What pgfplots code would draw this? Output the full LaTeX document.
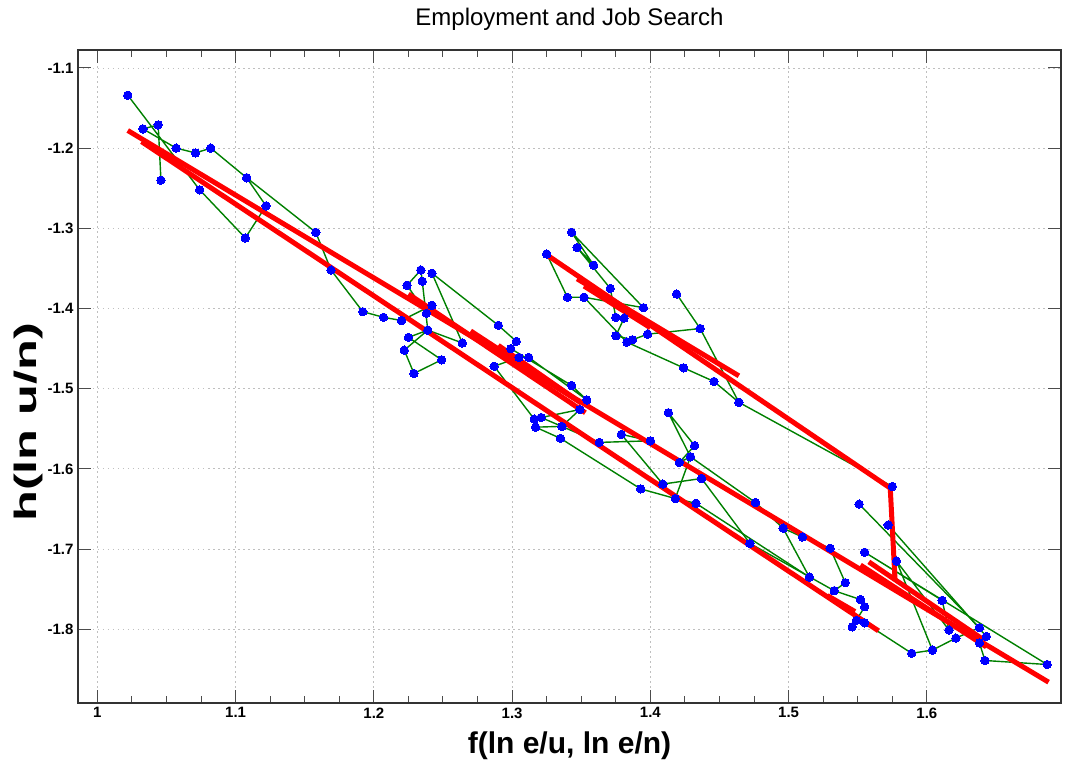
\documentclass[border=0pt]{standalone}
\usepackage{fontspec}
\setmainfont{Liberation Sans}
\usepackage{pgfplots}
\pgfplotsset{compat=1.18}
\definecolor{mygreen}{RGB}{0,128,0}
\definecolor{myred}{RGB}{255,0,0}
\definecolor{myblue}{RGB}{0,0,255}
\begin{document}
\begin{tikzpicture}
\useasboundingbox (-78pt,-57pt) rectangle (993pt,703pt);
\begin{axis}[
  at={(0,0)}, anchor=south west,
  scale only axis, width=983pt, height=653pt,
  xmin=0.986, xmax=1.697, ymin=-1.892, ymax=-1.0776,
  xtick={1,1.1,1.2,1.3,1.4,1.5,1.6},
  ytick={-1.8,-1.7,-1.6,-1.5,-1.4,-1.3,-1.2,-1.1},
  minor x tick num=3,
  tick align=inside,
  major tick length=13pt, minor tick length=7pt,
  tick style={line width=1pt, black!70},
  axis line style={line width=1.6pt, black!80},
  grid=major,
  grid style={line width=0.8pt, gray!50, dash pattern=on 1.5pt off 3.5pt},
  /pgf/number format/assume math mode=true,
  tick label style={font=\fontsize{15}{17}\selectfont\bfseries},
  xticklabel style={yshift=-1pt},
  yticklabel style={xshift=-1pt},
  title={Employment and Job Search},
  title style={at={(axis description cs:0.5,1.021)}, anchor=south, inner sep=0pt, font=\fontsize{24}{28}\selectfont},
  xlabel={f(ln e/u, ln e/n)},
  xlabel style={at={(axis description cs:0.5,-0.077)}, anchor=base, font=\fontsize{30}{34}\selectfont\bfseries},
  ylabel={h(ln u/n)},
  ylabel style={at={(axis description cs:-0.0427,0.43)}, anchor=base, font=\fontsize{31}{34}\selectfont\bfseries, xscale=1.63},
  every axis plot/.append style={line join=round},
  green/.style={mygreen, line width=1.4pt, mark=*, mark size=4.2pt, mark options={fill=myblue, draw=myblue, line width=0pt}},
  redl/.style={myred, line width=5pt, no markers},
]
% ---------------- green series with blue points ----------------
\addplot[green] coordinates {
(1.046,-1.240) (1.044,-1.171) (1.033,-1.176) (1.057,-1.200) (1.071,-1.206) (1.082,-1.200)
(1.108,-1.237) (1.122,-1.272) (1.107,-1.312) (1.074,-1.252) (1.022,-1.134)
};
\addplot[green] coordinates {
(1.108,-1.237) (1.158,-1.305) (1.169,-1.352) (1.192,-1.404) (1.207,-1.411) (1.220,-1.415)
(1.242,-1.396) (1.238,-1.406) (1.224,-1.371) (1.234,-1.352) (1.235,-1.366) (1.239,-1.427)
(1.222,-1.452) (1.229,-1.481) (1.249,-1.464) (1.225,-1.436) (1.239,-1.427) (1.264,-1.443)
(1.242,-1.356) (1.290,-1.421) (1.303,-1.441) (1.299,-1.450) (1.343,-1.496) (1.354,-1.514)
(1.312,-1.461) (1.305,-1.461) (1.287,-1.472) (1.316,-1.538) (1.321,-1.536) (1.349,-1.526)
(1.336,-1.547) (1.317,-1.548) (1.335,-1.562) (1.393,-1.625) (1.418,-1.637) (1.433,-1.643)
(1.515,-1.735) (1.496,-1.674) (1.510,-1.685) (1.530,-1.699) (1.541,-1.742) (1.533,-1.752)
(1.552,-1.763) (1.555,-1.772) (1.546,-1.797) (1.549,-1.789) (1.555,-1.792) (1.589,-1.830)
(1.604,-1.826) (1.621,-1.811) (1.638,-1.798) (1.551,-1.644)
};
\addplot[green] coordinates {
(1.321,-1.536) (1.363,-1.567) (1.400,-1.565) (1.379,-1.557) (1.409,-1.619) (1.437,-1.612)
(1.472,-1.693) (1.533,-1.752)
};
\addplot[green] coordinates {
(1.418,-1.637) (1.429,-1.585) (1.413,-1.530) (1.432,-1.571) (1.421,-1.592) (1.429,-1.585)
(1.476,-1.642) (1.496,-1.674)
};
\addplot[green] coordinates {
(1.325,-1.332) (1.340,-1.386) (1.352,-1.386) (1.395,-1.399) (1.343,-1.305) (1.359,-1.346)
(1.347,-1.324) (1.371,-1.375) (1.375,-1.411) (1.381,-1.412) (1.375,-1.434) (1.387,-1.439)
(1.398,-1.432) (1.436,-1.425) (1.419,-1.382)
};
\addplot[green] coordinates {
(1.436,-1.425) (1.464,-1.517) (1.446,-1.491) (1.424,-1.474) (1.383,-1.442) (1.352,-1.386)
};
\addplot[green] coordinates {
(1.464,-1.517) (1.575,-1.622)
};
\addplot[green] coordinates {
(1.572,-1.670) (1.643,-1.809) (1.638,-1.817) (1.642,-1.839) (1.687,-1.844) (1.555,-1.704)
(1.611,-1.764) (1.616,-1.801) (1.578,-1.715) (1.604,-1.826)
};
% ---------------- red fitted lines ----------------
\addplot[redl] coordinates {(1.022,-1.178) (1.688,-1.866)};
\addplot[redl] coordinates {(1.032,-1.192) (1.565,-1.802)};
\addplot[redl] coordinates {(1.225,-1.382) (1.353,-1.530)};
\addplot[redl] coordinates {(1.270,-1.428) (1.350,-1.518)};
\addplot[redl] coordinates {(1.290,-1.446) (1.345,-1.512)};
\addplot[redl] coordinates {(1.325,-1.333) (1.5735,-1.624) (1.577,-1.740)};
\addplot[redl] coordinates {(1.347,-1.363) (1.464,-1.484)};
\addplot[redl] coordinates {(1.352,-1.372) (1.400,-1.424)};
\addplot[redl] coordinates {(1.552,-1.720) (1.643,-1.822)};
\addplot[redl] coordinates {(1.558,-1.716) (1.640,-1.812)};
\addplot[redl] coordinates {(1.528,-1.758) (1.548,-1.778)};
\end{axis}
\end{tikzpicture}
\end{document}
